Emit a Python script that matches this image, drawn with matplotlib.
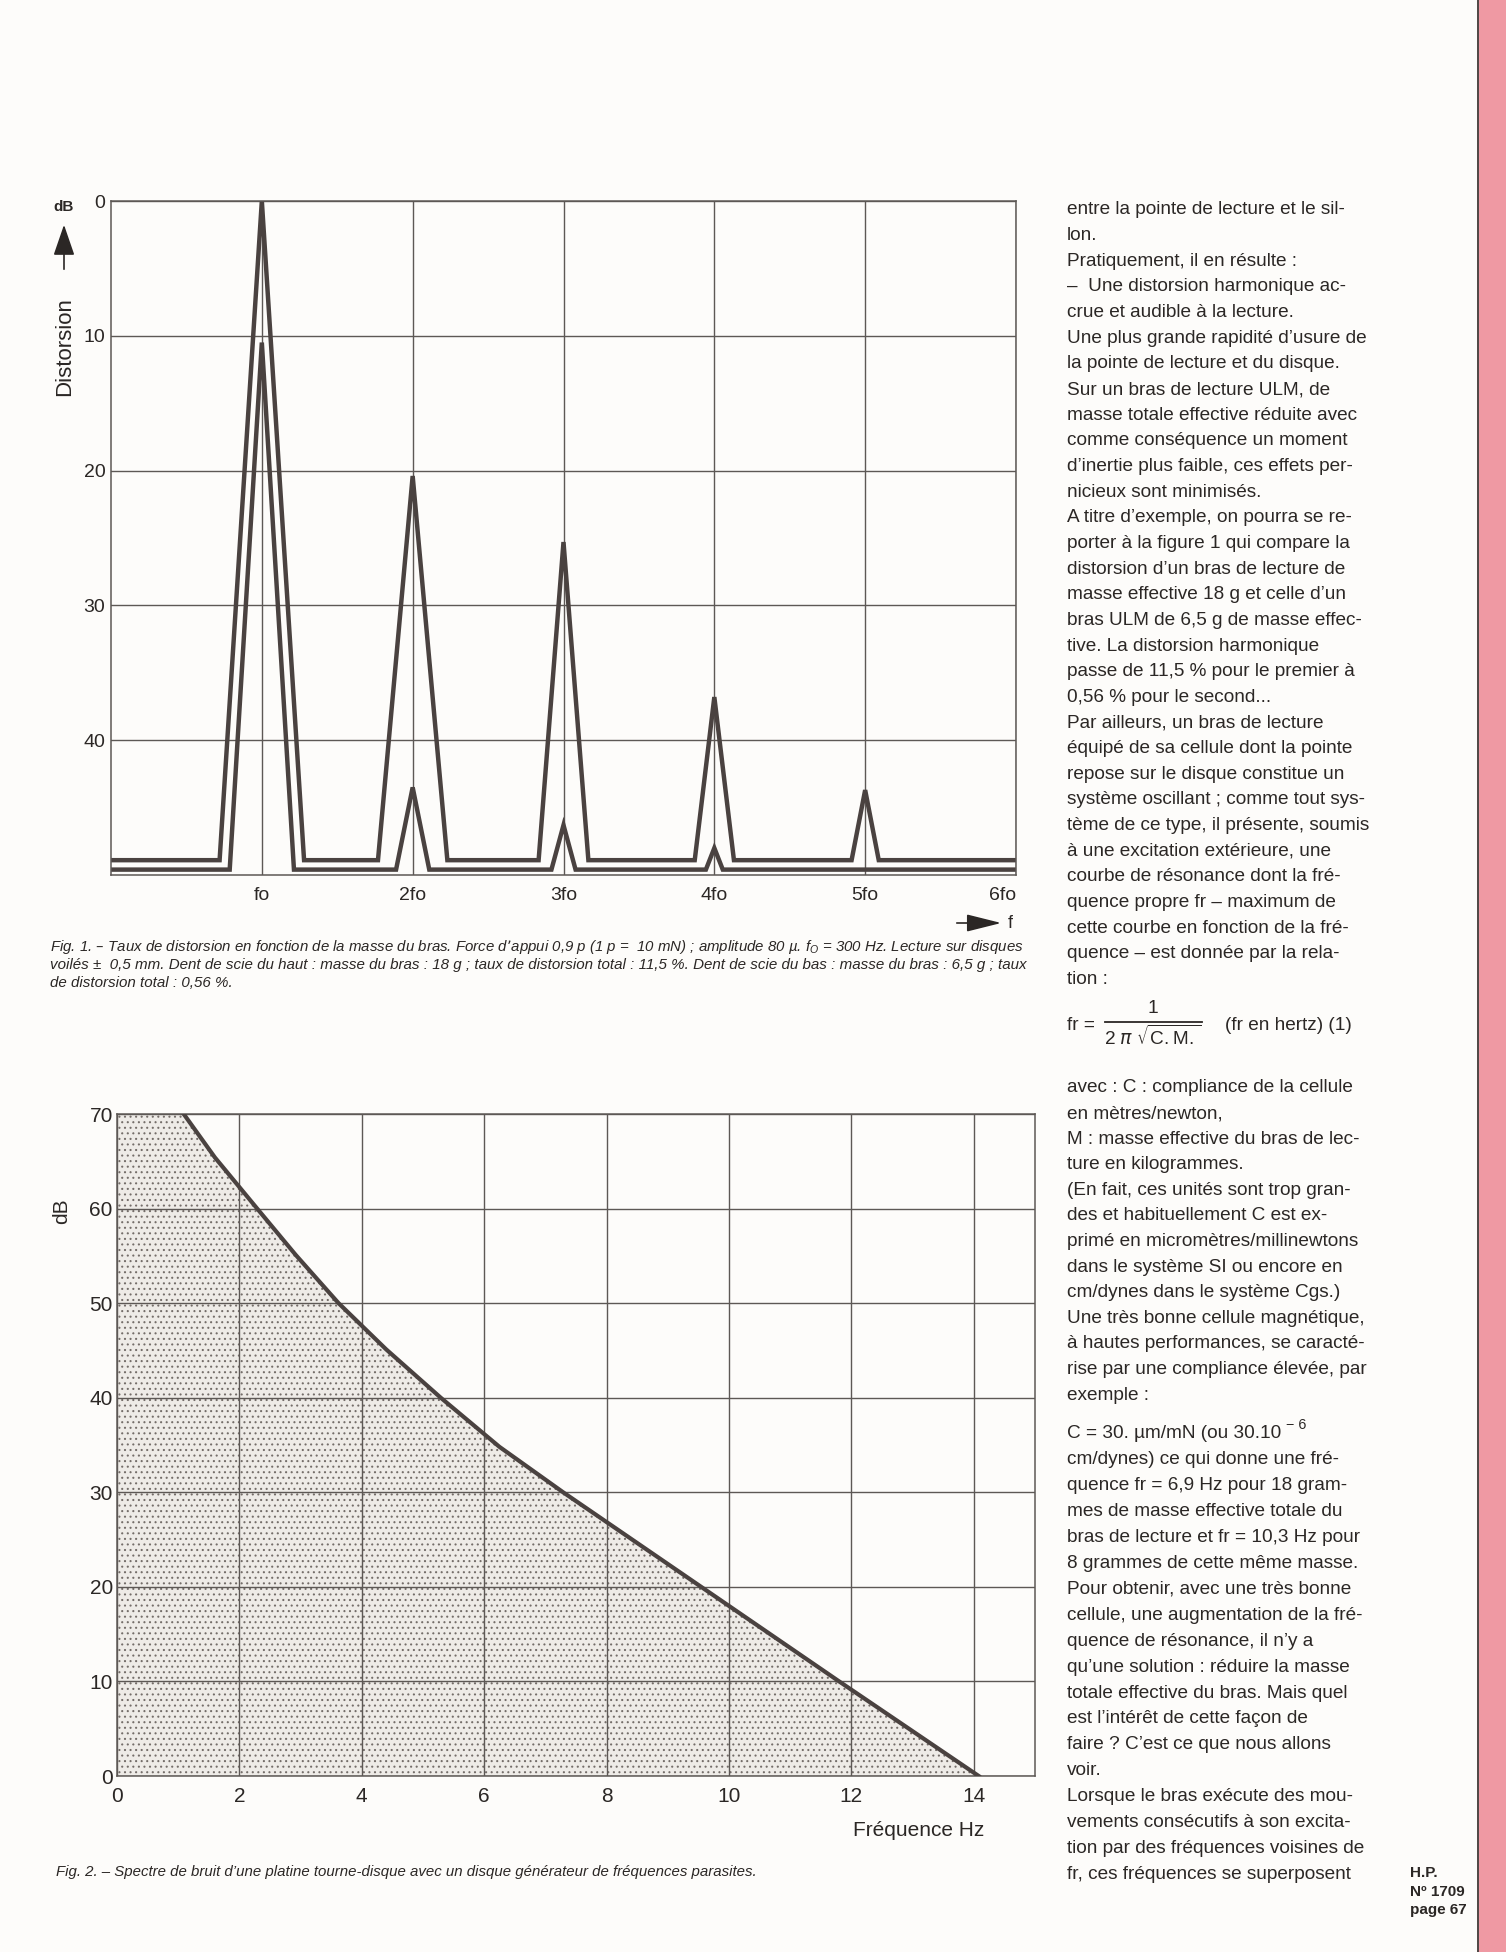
import matplotlib
matplotlib.use("Agg")
import matplotlib.pyplot as plt
from matplotlib import font_manager as fm
from matplotlib.patches import Rectangle, FancyArrowPatch
from matplotlib.lines import Line2D

W, H = 1506, 1952
PAPER = "#fdfcfa"
INK = "#2b2725"
TRACE = "#4a4240"
GRID = "#5d5855"
PINK = "#ef99a3"

# --- Fig. 1 : distortion sawtooth (f in multiples of fo, dB below 0) ---
harm_ticks = [1, 2, 3, 4, 5, 6]
harm_labels = ["fo", "2fo", "3fo", "4fo", "5fo", "6fo"]
dist_ticks = [0, 10, 20, 30, 40]
# arm 18 g (upper sawtooth)
upper_f = [0, 0.72, 1, 1.28, 1.77, 2, 2.23, 2.835, 3, 3.165, 3.87, 4, 4.13, 4.91, 5, 5.09, 6]
upper_db = [48.9, 48.9, 0, 48.9, 48.9, 20.4, 48.9, 48.9, 25.3, 48.9, 48.9, 36.8, 48.9, 48.9, 43.7, 48.9, 48.9]
# arm 6,5 g (lower sawtooth)
lower_f = [0, 0.787, 1, 1.213, 1.89, 2, 2.11, 2.92, 3, 3.08, 3.944, 4, 4.056, 6]
lower_db = [49.6, 49.6, 10.5, 49.6, 49.6, 43.5, 49.6, 49.6, 46.3, 49.6, 49.6, 48.0, 49.6, 49.6]

# --- Fig. 2 : noise spectrum of the turntable ---
freq_ticks = [0, 2, 4, 6, 8, 10, 12, 14]
noise_ticks = [0, 10, 20, 30, 40, 50, 60, 70]
noise_f = [1.09, 1.6, 2.29, 2.92, 3.62, 4.4, 5.29, 6.25, 7.29, 9.5, 11.8, 14.08]
noise_db = [70, 65.4, 60, 55.1, 50, 45.1, 40, 34.8, 30, 20.2, 10, 0]

caption1 = [
    "Fig. 1. – Taux de distorsion en fonction de la masse du bras. Force d’appui 0,9 p (1 p =  10 mN) ; "
    "amplitude 80 µ. f$_{\\mathregular{O}}$ = 300 Hz. Lecture sur disques",
    "voilés ±  0,5 mm. Dent de scie du haut : masse du bras : 18 g ; taux de distorsion total : 11,5 %. "
    "Dent de scie du bas : masse du bras : 6,5 g ; taux",
    "de distorsion total : 0,56 %.",
]
caption2 = ("Fig. 2. – Spectre de bruit d’une platine tourne-disque avec un disque "
            "générateur de fréquences parasites.")

column1 = [
    "entre la pointe de lecture et le sil-",
    "lon.",
    "Pratiquement, il en résulte :",
    "–  Une distorsion harmonique ac-",
    "crue et audible à la lecture.",
    "Une plus grande rapidité d’usure de",
    "la pointe de lecture et du disque.",
    "Sur un bras de lecture ULM, de",
    "masse totale effective réduite avec",
    "comme conséquence un moment",
    "d’inertie plus faible, ces effets per-",
    "nicieux sont minimisés.",
    "A titre d’exemple, on pourra se re-",
    "porter à la figure 1 qui compare la",
    "distorsion d’un bras de lecture de",
    "masse effective 18 g et celle d’un",
    "bras ULM de 6,5 g de masse effec-",
    "tive. La distorsion harmonique",
    "passe de 11,5 % pour le premier à",
    "0,56 % pour le second...",
    "Par ailleurs, un bras de lecture",
    "équipé de sa cellule dont la pointe",
    "repose sur le disque constitue un",
    "système oscillant ; comme tout sys-",
    "tème de ce type, il présente, soumis",
    "à une excitation extérieure, une",
    "courbe de résonance dont la fré-",
    "quence propre fr – maximum de",
    "cette courbe en fonction de la fré-",
    "quence – est donnée par la rela-",
    "tion :",
]
column2 = [
    "avec : C : compliance de la cellule",
    "en mètres/newton,",
    "M : masse effective du bras de lec-",
    "ture en kilogrammes.",
    "(En fait, ces unités sont trop gran-",
    "des et habituellement C est ex-",
    "primé en micromètres/millinewtons",
    "dans le système SI ou encore en",
    "cm/dynes dans le système Cgs.)",
    "Une très bonne cellule magnétique,",
    "à hautes performances, se caracté-",
    "rise par une compliance élevée, par",
    "exemple :",
]
column3 = [
    "C = 30. µm/mN (ou 30.10",
    "cm/dynes) ce qui donne une fré-",
    "quence fr = 6,9 Hz pour 18 gram-",
    "mes de masse effective totale du",
    "bras de lecture et fr = 10,3 Hz pour",
    "8 grammes de cette même masse.",
    "Pour obtenir, avec une très bonne",
    "cellule, une augmentation de la fré-",
    "quence de résonance, il n’y a",
    "qu’une solution : réduire la masse",
    "totale effective du bras. Mais quel",
    "est l’intérêt de cette façon de",
    "faire ? C’est ce que nous allons",
    "voir.",
    "Lorsque le bras exécute des mou-",
    "vements consécutifs à son excita-",
    "tion par des fréquences voisines de",
    "fr, ces fréquences se superposent",
]
footer = ["H.P.", "Nº 1709", "page 67"]


def installed(name):
    try:
        fm.findfont(fm.FontProperties(family=name), fallback_to_default=False)
        return True
    except ValueError:
        return False


BODY = "Liberation Sans"
NARROW = "Liberation Sans Narrow" if installed("Liberation Sans Narrow") else BODY
plt.rcParams["font.family"] = [BODY, "DejaVu Sans"]
plt.rcParams["hatch.linewidth"] = 0.75

fig = plt.figure(figsize=(W / 100, H / 100), dpi=100, facecolor=PAPER)
renderer = fig.canvas.get_renderer()


def px_axes(left, top, right, bottom):
    return fig.add_axes([left / W, 1 - bottom / H, (right - left) / W, (bottom - top) / H])


def ptext(x, y, s, **kw):
    kw.setdefault("color", INK)
    return fig.text(x / W, 1 - y / H, s, **kw)


def fit_width(t, target):
    w = t.get_window_extent(renderer).width
    t.set_fontsize(t.get_fontsize() * target / w)
    return t.get_fontsize()


def style_frame(ax):
    for s in ax.spines.values():
        s.set_color(GRID)
        s.set_linewidth(1.1)
    ax.set_facecolor("none")


# ---------------- Fig. 1 ----------------
ax1 = px_axes(111, 201, 1016, 875)
style_frame(ax1)
ax1.set_xlim(0, 6)
ax1.set_ylim(50, 0)
ax1.set_xticks(harm_ticks, harm_labels)
ax1.set_yticks(dist_ticks)
ax1.tick_params(length=0, labelsize=14, colors=INK)
ax1.tick_params(axis="x", pad=9)
ax1.tick_params(axis="y", pad=4)
ax1.get_xticklabels()[-1].set_horizontalalignment("right")
ax1.grid(True, color=GRID, lw=1.0)
ax1.plot(upper_f, upper_db, color=TRACE, lw=3.2, solid_joinstyle="miter")
ax1.plot(lower_f, lower_db, color=TRACE, lw=3.2, solid_joinstyle="miter")

ptext(64, 207, "dB", fontsize=11, fontweight="bold", ha="center", va="center")
fig.add_artist(FancyArrowPatch((64 / W, 1 - 272 / H), (64 / W, 1 - 222 / H),
                               transform=fig.transFigure, arrowstyle="-|>,head_length=1.6,head_width=0.55",
                               mutation_scale=12, color=INK, lw=1.2))
ptext(65, 347, "Distorsion", fontsize=16, rotation=90, ha="center", va="center")
fig.add_artist(FancyArrowPatch((954 / W, 1 - 923 / H), (1004 / W, 1 - 923 / H),
                               transform=fig.transFigure, arrowstyle="-|>,head_length=1.8,head_width=0.45",
                               mutation_scale=12, color=INK, lw=1.2))
ptext(1008, 923, "f", fontsize=13, ha="left", va="center")

size = None
for i, (line, y) in enumerate(zip(caption1, [947, 965, 983])):
    t = ptext(50, y, line, fontsize=10, style="italic", family=[NARROW, "DejaVu Sans"],
              ha="left", va="center")
    if i < 2:
        size = fit_width(t, 978)
    else:
        t.set_fontsize(size)

# ---------------- Fig. 2 ----------------
ax2 = px_axes(117, 1114, 1035, 1776)
style_frame(ax2)
ax2.set_xlim(0, 15)
ax2.set_ylim(0, 70)
ax2.set_xticks(freq_ticks)
ax2.set_yticks(noise_ticks)
ax2.tick_params(length=0, labelsize=15, colors=INK)
ax2.tick_params(axis="x", pad=8)
ax2.tick_params(axis="y", pad=3)
ax2.fill_between([0] + noise_f, [70] + noise_db, 0, facecolor="#eeebe7",
                 edgecolor="#746d69", hatch="...", lw=0, zorder=1)
ax2.set_axisbelow(False)
ax2.grid(True, color=GRID, lw=1.0)
ax2.plot(noise_f, noise_db, color=TRACE, lw=3.0, zorder=3, solid_joinstyle="round")

ptext(62, 1211, "dB", fontsize=15, rotation=90, ha="center", va="center")
ptext(853, 1830, "Fréquence Hz", fontsize=15, ha="left", va="center")
t = ptext(56, 1872, caption2, fontsize=10, style="italic", family=[NARROW, "DejaVu Sans"],
          ha="left", va="center")
fit_width(t, 705)

# ---------------- text column ----------------
ref = ptext(1067, 0, "Une plus grande rapidité d’usure de", fontsize=12, ha="left", va="center")
body_size = fit_width(ref, 302)
ref.remove()

for i, line in enumerate(column1):
    ptext(1067, 210 + i * 25.65, line, fontsize=body_size, ha="left", va="center")
for i, line in enumerate(column2):
    ptext(1067, 1088 + i * 25.6, line, fontsize=body_size, ha="left", va="center")
for i, line in enumerate(column3):
    t = ptext(1067, 1434 + i * 25.9, line, fontsize=body_size, ha="left", va="center")
    if i == 0:
        bb = t.get_window_extent(renderer)
        ptext(bb.x1 + 5, 1425, "− 6", fontsize=body_size * 0.75, ha="left", va="center")

# formula (1)
ptext(1067, 1025, "fr =", fontsize=body_size, ha="left", va="center")
ptext(1153, 1009, "1", fontsize=body_size, ha="center", va="center")
fig.add_artist(Line2D([1105 / W, 1202 / W], [1 - 1022 / H, 1 - 1022 / H],
                      transform=fig.transFigure, color=INK, lw=1.3))
ptext(1153, 1037, "2 $\\pi$ $\\sqrt{\\mathregular{C.M.}}$", fontsize=body_size, ha="center", va="center")
ptext(1225, 1025, "(fr en hertz) (1)", fontsize=body_size, ha="left", va="center")

for i, line in enumerate(footer):
    ptext(1410, 1873 + i * 18.5, line, fontsize=11, fontweight="bold", ha="left", va="center")

# pink page edge
fig.add_artist(Rectangle((1479 / W, 0), (W - 1479) / W, 1, transform=fig.transFigure,
                         facecolor=PINK, edgecolor="none"))
fig.add_artist(Line2D([1477.5 / W, 1477.5 / W], [0, 1], transform=fig.transFigure,
                      color="#4f4442", lw=1.4))

fig.savefig("out.png", dpi=100, facecolor=PAPER)
